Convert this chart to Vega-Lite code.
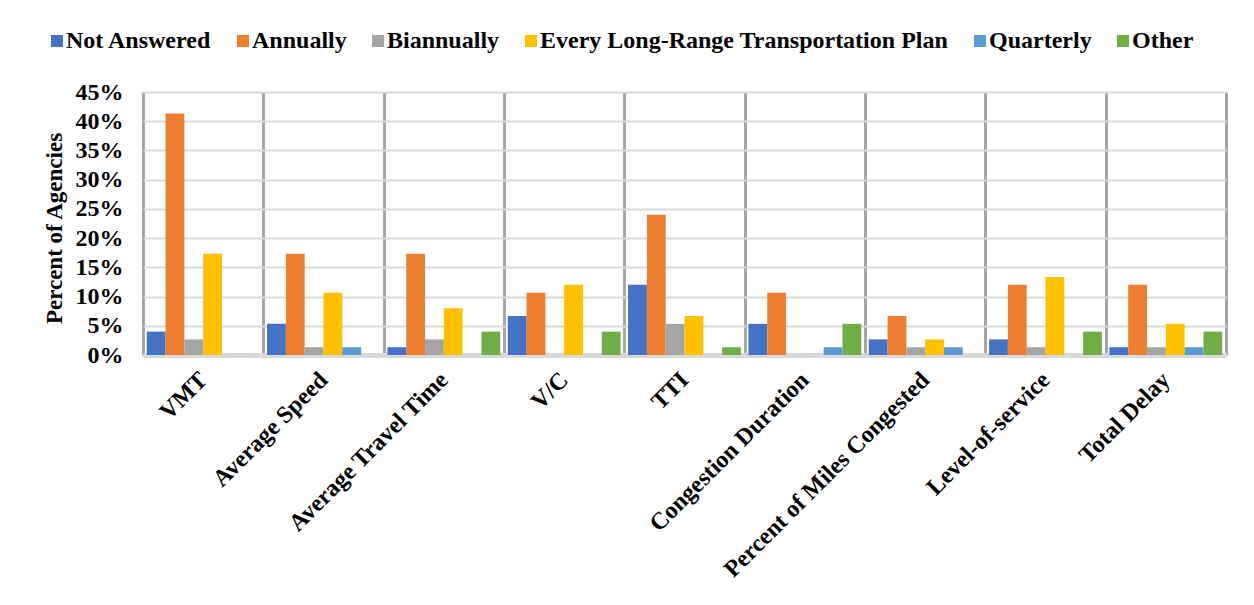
{
  "$schema": "https://vega.github.io/schema/vega-lite/v6.json",
  "autosize": {"type": "none"},
  "width": 1083,
  "height": 263,
  "padding": {"left": 143, "top": 92, "right": 28, "bottom": 250},
  "background": "white",
  "config": {
    "view": {"stroke": null},
    "font": "Liberation Serif"
  },
  "data": {
    "values": [
      {"metric": "VMT", "freq": "Not Answered", "value": 0.04},
      {"metric": "VMT", "freq": "Annually", "value": 0.4133},
      {"metric": "VMT", "freq": "Biannually", "value": 0.0267},
      {"metric": "VMT", "freq": "Every Long-Range Transportation Plan", "value": 0.1733},
      {"metric": "VMT", "freq": "Quarterly", "value": 0},
      {"metric": "VMT", "freq": "Other", "value": 0},
      {"metric": "Average Speed", "freq": "Not Answered", "value": 0.0533},
      {"metric": "Average Speed", "freq": "Annually", "value": 0.1733},
      {"metric": "Average Speed", "freq": "Biannually", "value": 0.0133},
      {"metric": "Average Speed", "freq": "Every Long-Range Transportation Plan", "value": 0.1067},
      {"metric": "Average Speed", "freq": "Quarterly", "value": 0.0133},
      {"metric": "Average Speed", "freq": "Other", "value": 0},
      {"metric": "Average Travel Time", "freq": "Not Answered", "value": 0.0133},
      {"metric": "Average Travel Time", "freq": "Annually", "value": 0.1733},
      {"metric": "Average Travel Time", "freq": "Biannually", "value": 0.0267},
      {"metric": "Average Travel Time", "freq": "Every Long-Range Transportation Plan", "value": 0.08},
      {"metric": "Average Travel Time", "freq": "Quarterly", "value": 0},
      {"metric": "Average Travel Time", "freq": "Other", "value": 0.04},
      {"metric": "V/C", "freq": "Not Answered", "value": 0.0667},
      {"metric": "V/C", "freq": "Annually", "value": 0.1067},
      {"metric": "V/C", "freq": "Biannually", "value": 0},
      {"metric": "V/C", "freq": "Every Long-Range Transportation Plan", "value": 0.12},
      {"metric": "V/C", "freq": "Quarterly", "value": 0},
      {"metric": "V/C", "freq": "Other", "value": 0.04},
      {"metric": "TTI", "freq": "Not Answered", "value": 0.12},
      {"metric": "TTI", "freq": "Annually", "value": 0.24},
      {"metric": "TTI", "freq": "Biannually", "value": 0.0533},
      {"metric": "TTI", "freq": "Every Long-Range Transportation Plan", "value": 0.0667},
      {"metric": "TTI", "freq": "Quarterly", "value": 0},
      {"metric": "TTI", "freq": "Other", "value": 0.0133},
      {"metric": "Congestion Duration", "freq": "Not Answered", "value": 0.0533},
      {"metric": "Congestion Duration", "freq": "Annually", "value": 0.1067},
      {"metric": "Congestion Duration", "freq": "Biannually", "value": 0},
      {"metric": "Congestion Duration", "freq": "Every Long-Range Transportation Plan", "value": 0},
      {"metric": "Congestion Duration", "freq": "Quarterly", "value": 0.0133},
      {"metric": "Congestion Duration", "freq": "Other", "value": 0.0533},
      {"metric": "Percent of Miles Congested", "freq": "Not Answered", "value": 0.0267},
      {"metric": "Percent of Miles Congested", "freq": "Annually", "value": 0.0667},
      {"metric": "Percent of Miles Congested", "freq": "Biannually", "value": 0.0133},
      {"metric": "Percent of Miles Congested", "freq": "Every Long-Range Transportation Plan", "value": 0.0267},
      {"metric": "Percent of Miles Congested", "freq": "Quarterly", "value": 0.0133},
      {"metric": "Percent of Miles Congested", "freq": "Other", "value": 0},
      {"metric": "Level-of-service", "freq": "Not Answered", "value": 0.0267},
      {"metric": "Level-of-service", "freq": "Annually", "value": 0.12},
      {"metric": "Level-of-service", "freq": "Biannually", "value": 0.0133},
      {"metric": "Level-of-service", "freq": "Every Long-Range Transportation Plan", "value": 0.1333},
      {"metric": "Level-of-service", "freq": "Quarterly", "value": 0},
      {"metric": "Level-of-service", "freq": "Other", "value": 0.04},
      {"metric": "Total Delay", "freq": "Not Answered", "value": 0.0133},
      {"metric": "Total Delay", "freq": "Annually", "value": 0.12},
      {"metric": "Total Delay", "freq": "Biannually", "value": 0.0133},
      {"metric": "Total Delay", "freq": "Every Long-Range Transportation Plan", "value": 0.0533},
      {"metric": "Total Delay", "freq": "Quarterly", "value": 0.0133},
      {"metric": "Total Delay", "freq": "Other", "value": 0.04}
    ]
  },
  "mark": {"type": "bar"},
  "encoding": {
    "x": {
      "field": "metric",
      "type": "nominal",
      "sort": null,
      "scale": {"paddingInner": 0, "paddingOuter": 0},
      "axis": {
        "title": null,
        "labelAngle": -45,
        "labelAlign": "right",
        "labelBaseline": "middle",
        "labelFont": "Liberation Serif",
        "labelFontWeight": "bold",
        "labelFontSize": 24,
        "labelColor": "black",
        "labelPadding": 21,
        "labelLimit": 400,
        "ticks": false,
        "domainColor": "#d9d9d9",
        "domainWidth": 5,
        "grid": true,
        "tickBand": "extent",
        "gridColor": "#a6a6a6",
        "gridWidth": 3
      }
    },
    "xOffset": {
      "field": "freq",
      "type": "nominal",
      "sort": null,
      "scale": {"paddingInner": 0, "paddingOuter": 0.2}
    },
    "y": {
      "field": "value",
      "type": "quantitative",
      "scale": {"domain": [0, 0.45]},
      "axis": {
        "title": "Percent of Agencies",
        "titleFont": "Liberation Serif",
        "titleFontWeight": "bold",
        "titleFontSize": 23,
        "titleColor": "black",
        "titlePadding": 9,
        "titleY": 136,
        "values": [0, 0.05, 0.1, 0.15, 0.2, 0.25, 0.3, 0.35, 0.4, 0.45],
        "format": ".0%",
        "labelFont": "Liberation Serif",
        "labelFontWeight": "bold",
        "labelFontSize": 24,
        "labelColor": "black",
        "labelPadding": 20,
        "ticks": false,
        "domain": false,
        "gridColor": "#d9d9d9",
        "gridWidth": 2
      }
    },
    "color": {
      "field": "freq",
      "type": "nominal",
      "sort": null,
      "scale": {
        "domain": ["Not Answered", "Annually", "Biannually", "Every Long-Range Transportation Plan", "Quarterly", "Other"],
        "range": ["#4472C4", "#ED7D31", "#A5A5A5", "#FFC000", "#5B9BD5", "#70AD47"]
      },
      "legend": {
        "title": null,
        "orient": "none",
        "direction": "horizontal",
        "legendX": -98,
        "legendY": -63,
        "symbolType": "square",
        "symbolSize": 144,
        "symbolStrokeWidth": 0,
        "symbolOpacity": 1,
        "labelFont": "Liberation Serif",
        "labelFontWeight": "bold",
        "labelFontSize": 24,
        "labelColor": "black",
        "labelOffset": -3,
        "labelLimit": 500,
        "columnPadding": 19
      }
    }
  }
}
